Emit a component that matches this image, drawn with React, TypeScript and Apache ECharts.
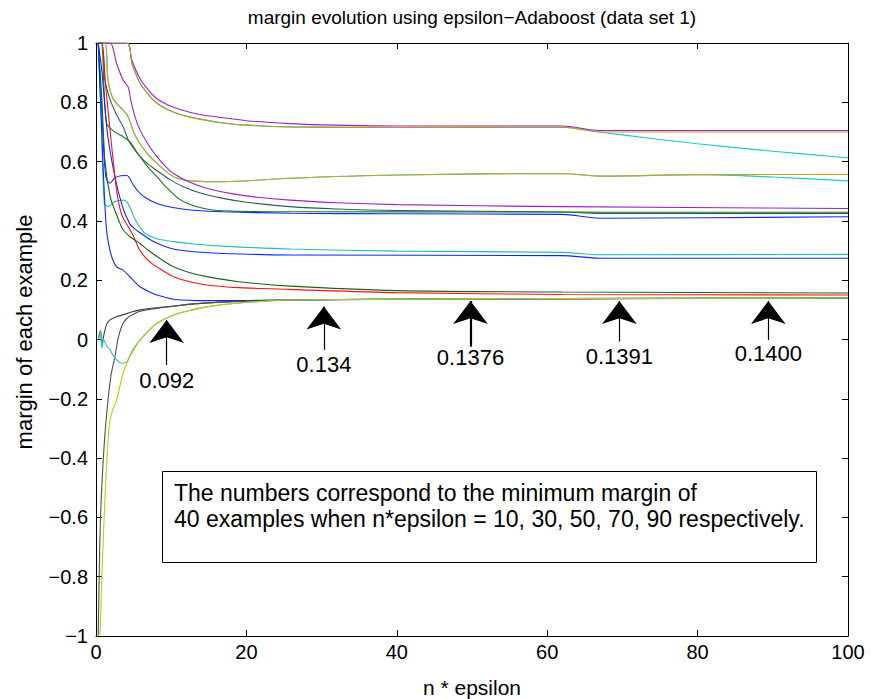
import React, { useEffect, useRef } from 'react';
import * as echarts from 'echarts';

const FONT = '"Liberation Sans", Arial, Helvetica, sans-serif';

// x ticks / y ticks
const xTicks = [0, 20, 40, 60, 80, 100];
const yRange = [-1, 1];

// each curve: [n*epsilon, margin]
const cyanTop = [[0.3, 1], [4.1, 1], [4.8, 0.93], [5.85, 0.865], [7, 0.825], [8.1, 0.797], [10, 0.77], [12.5, 0.75], [16.9, 0.73], [20, 0.723], [25.8, 0.717], [40, 0.715], [62, 0.716], [67, 0.7], [70, 0.69], [80, 0.66], [90, 0.635], [100, 0.613]];
const purpleTop = [[0.3, 1], [4.1, 1], [4.8, 0.94], [5.85, 0.88], [7, 0.84], [8.1, 0.812], [9.5, 0.792], [11.2, 0.776], [14, 0.758], [16.9, 0.748], [20, 0.738], [25.8, 0.728], [30, 0.724], [40, 0.72], [62, 0.72], [67, 0.705], [100, 0.705]];
const goldTop = [[0.3, 1], [4.1, 1], [4.8, 0.93], [5.85, 0.865], [7, 0.825], [8.1, 0.797], [10, 0.77], [12.5, 0.75], [16.9, 0.73], [20, 0.723], [25.8, 0.717], [40, 0.715], [62, 0.716], [67, 0.7], [100, 0.7]];
const cyanMid = [[0.3, 1], [1.2, 1], [1.6, 0.875], [2.3, 0.81], [3.6, 0.774], [4.3, 0.75], [5.0, 0.7], [5.85, 0.66], [7, 0.622], [8.1, 0.594], [9.5, 0.563], [10.7, 0.545], [13, 0.534], [16.9, 0.532], [25.8, 0.544], [40, 0.555], [62, 0.56], [67, 0.551], [80, 0.556], [90, 0.548], [100, 0.535]];
const goldMid = [[0.3, 1], [1.2, 1], [1.6, 0.875], [2.3, 0.81], [3.6, 0.774], [4.3, 0.75], [5.0, 0.7], [5.85, 0.66], [7, 0.622], [8.1, 0.594], [9.5, 0.563], [10.7, 0.545], [13, 0.534], [16.9, 0.532], [25.8, 0.544], [40, 0.555], [62, 0.56], [67, 0.551], [80, 0.556], [100, 0.557]];
const purpleMid = [[0.3, 1], [1.86, 1], [2.75, 0.93], [3.6, 0.875], [4.3, 0.85], [4.6, 0.81], [5.2, 0.75], [5.85, 0.707], [7, 0.655], [8.1, 0.617], [9.2, 0.585], [10.3, 0.56], [12.5, 0.53], [14.7, 0.51], [18, 0.492], [21.4, 0.48], [25.8, 0.47], [32, 0.461], [40, 0.455], [62, 0.448], [100, 0.442]];
const slate = [[0.3, 1], [0.8, 1], [1.2, 0.875], [1.86, 0.81], [2.7, 0.76], [3.6, 0.718], [4.3, 0.673], [5.0, 0.645], [5.85, 0.617], [7, 0.59], [8.1, 0.57], [9.8, 0.54], [11.6, 0.515], [14, 0.493], [16.9, 0.476], [20, 0.463], [25.8, 0.448], [32, 0.44], [40, 0.435], [62, 0.43], [67, 0.425], [100, 0.425]];
const green = [[0.3, 1], [0.7, 1], [1.4, 0.73], [2.5, 0.7], [3.6, 0.684], [4.5, 0.667], [5.5, 0.63], [6.8, 0.585], [8.1, 0.549], [9.5, 0.51], [11, 0.475], [12.5, 0.455], [14.5, 0.441], [16.9, 0.434], [25.8, 0.431], [62, 0.43], [67, 0.429], [100, 0.429]];
const blueBump = [[0.3, 1], [0.8, 0.75], [1.3, 0.55], [1.86, 0.527], [2.5, 0.545], [3.3, 0.552], [4.1, 0.553], [5.0, 0.52], [5.85, 0.493], [7, 0.472], [8.1, 0.459], [10, 0.446], [12.5, 0.437], [16.9, 0.431], [25.8, 0.426], [40, 0.424], [62, 0.422], [67, 0.409], [100, 0.414]];
const cyanBump = [[0.3, 1], [0.7, 0.75], [1.1, 0.46], [1.6, 0.448], [2.5, 0.465], [3.6, 0.47], [4.1, 0.465], [4.6, 0.44], [5.2, 0.405], [6.0, 0.372], [6.7, 0.355], [8.1, 0.34], [10.3, 0.33], [13, 0.322], [16.9, 0.315], [25.8, 0.305], [40, 0.298], [62, 0.294], [67, 0.286], [100, 0.287]];
const blueLow = [[0.3, 1], [0.8, 0.9], [1.5, 0.7], [2.5, 0.55], [3.5, 0.45], [4.5, 0.39], [5.2, 0.372], [5.85, 0.36], [7, 0.34], [8.1, 0.325], [10.3, 0.305], [13, 0.296], [16.9, 0.29], [25.8, 0.285], [62, 0.283], [67, 0.274], [100, 0.274]];
const red = [[0.3, 1], [0.75, 1], [1.3, 0.85], [1.86, 0.707], [2.3, 0.6], [2.75, 0.5], [3.2, 0.44], [3.6, 0.41], [4.3, 0.38], [5, 0.347], [5.85, 0.3], [7, 0.265], [8.1, 0.245], [10.3, 0.212], [12.5, 0.195], [14.7, 0.184], [19, 0.175], [25.8, 0.169], [40, 0.158], [62, 0.152], [100, 0.15]];
const darkGreen = [[0.3, 1], [0.8, 0.8], [1.2, 0.6], [1.9, 0.48], [2.75, 0.42], [3.6, 0.37], [4.6, 0.345], [5.85, 0.324], [7, 0.3], [8.1, 0.28], [10.3, 0.245], [12.5, 0.225], [14.7, 0.212], [19, 0.195], [25.8, 0.18], [40, 0.165], [62, 0.16], [100, 0.157]];
const blueMin = [[0.3, 1], [0.6, 0.8], [1.0, 0.55], [1.4, 0.37], [1.86, 0.3], [2.3, 0.265], [2.75, 0.245], [3.6, 0.234], [4.5, 0.212], [5.2, 0.193], [5.85, 0.178], [7, 0.162], [8.1, 0.15], [10.3, 0.136], [14.7, 0.131], [25.8, 0.133], [40, 0.136], [62, 0.137], [100, 0.14]];
const greyA = [[0.3, 0], [0.6, 0.03], [0.8, -0.02], [1, 0.01], [1.4, 0.05], [1.86, 0.066], [2.7, 0.077], [3.6, 0.083], [4.6, 0.092], [5.85, 0.1], [8, 0.107], [10.3, 0.113], [13, 0.12], [16.9, 0.127], [25.8, 0.133], [40, 0.136], [62, 0.138], [100, 0.14]];
const greyB = [[0.3, -1], [0.6, -0.6], [1.1, -0.35], [1.6, -0.204], [2.0, -0.12], [2.5, -0.06], [3.0, 0.01], [3.6, 0.055], [4.3, 0.075], [5, 0.085], [5.85, 0.095], [8, 0.105], [10.3, 0.112], [13, 0.12], [16.9, 0.126], [25.8, 0.133], [40, 0.136], [62, 0.138], [100, 0.14]];
const cyanLow = [[0.3, 0], [0.6, 0.03], [0.8, -0.03], [1, 0], [1.4, -0.02], [1.86, -0.035], [2.3, -0.055], [2.75, -0.069], [3.2, -0.078], [3.6, -0.08], [4.1, -0.075], [4.6, -0.05], [5.0, -0.03], [5.85, -0.002], [7, 0.03], [8.1, 0.055], [10.3, 0.083], [12.5, 0.098], [14.7, 0.11], [19, 0.123], [25.8, 0.133], [40, 0.136], [62, 0.138], [100, 0.14]];
const yellow = [[0.3, -1], [0.53, -0.99], [0.75, -0.82], [1, -0.654], [1.2, -0.53], [1.4, -0.43], [1.6, -0.34], [1.86, -0.27], [2.3, -0.232], [2.75, -0.204], [3.2, -0.155], [3.6, -0.114], [4.5, -0.058], [5.85, -0.002], [7, 0.03], [8.1, 0.055], [10.3, 0.083], [12.5, 0.098], [14.7, 0.11], [19, 0.123], [25.8, 0.133], [40, 0.136], [62, 0.138], [100, 0.14]];

const curves = [
  { name: 'cyanTop', color: '#1ec8c8', data: cyanTop },
  { name: 'purpleTop', color: '#a020c8', data: purpleTop },
  { name: 'goldTop', color: '#c09a20', data: goldTop },
  { name: 'cyanMid', color: '#1ec8c8', data: cyanMid },
  { name: 'goldMid', color: '#c0a830', data: goldMid },
  { name: 'purpleMid', color: '#a020c8', data: purpleMid },
  { name: 'slate', color: '#2f5a5a', data: slate },
  { name: 'green', color: '#108010', data: green },
  { name: 'blueBump', color: '#1028ff', data: blueBump },
  { name: 'cyanBump', color: '#20c0b0', data: cyanBump },
  { name: 'blueLow', color: '#1028ff', data: blueLow },
  { name: 'red', color: '#ff1010', data: red },
  { name: 'darkGreen', color: '#206020', data: darkGreen },
  { name: 'blueMin', color: '#1028ff', data: blueMin },
  { name: 'greyA', color: '#404040', data: greyA },
  { name: 'greyB', color: '#505050', data: greyB },
  { name: 'cyanLow', color: '#20c0c0', data: cyanLow },
  { name: 'yellow', color: '#c8c810', data: yellow },
];

// arrows: x position, tail, tip, label
const arrowX = [9.4, 30.3, 49.8, 69.6, 89.4];
const arrowTail = [-0.086, -0.035, -0.024, -0.007, -0.002];
const arrowTip = [0.066, 0.111, 0.13, 0.13, 0.13];
const arrowWidth = [1.2, 1.2, 2.2, 1.2, 1.2];
const arrowLabels = ['0.092', '0.134', '0.1376', '0.1391', '0.1400'];
const labelY = [-0.137, -0.086, -0.062, -0.056, -0.046];

const titleText = 'margin evolution using epsilon\u2212Adaboost (data set 1)';
const xName = 'n * epsilon';
const yName = 'margin of each example';
const noteLines = [
  'The numbers correspond to the minimum margin of',
  '40 examples when n*epsilon = 10, 30, 50, 70, 90 respectively.',
];

export default function App() {
  const ref = useRef<HTMLDivElement>(null);
  useEffect(() => {
    const chart = echarts.init(ref.current!, null, { renderer: 'svg' });
    const yFmt = (v: number) => {
      const r = Math.round(v * 10) / 10;
      return r === 0 ? '0' : String(r).replace('-', '\u2212');
    };
    const baseX = {
      type: 'value', min: xTicks[0], max: xTicks[xTicks.length - 1], interval: 20,
      axisLine: { show: true, onZero: false, lineStyle: { color: '#000', width: 1 } },
      axisTick: { show: true, inside: true, length: 6, lineStyle: { color: '#000', width: 1 } },
      splitLine: { show: false },
    };
    const baseY = {
      type: 'value', min: yRange[0], max: yRange[1], interval: 0.2,
      axisLine: { show: true, onZero: false, lineStyle: { color: '#000', width: 1 } },
      axisTick: { show: true, inside: true, length: 6, lineStyle: { color: '#000', width: 1 } },
      splitLine: { show: false },
    };
    const staticGraphics: any[] = [
      { type: 'text', x: 472, y: 17, z: 10, style: { text: titleText, font: `19px ${FONT}`, fill: '#000', align: 'center', verticalAlign: 'middle' } },
      { type: 'text', x: 472, y: 687, z: 10, style: { text: xName, font: `21px ${FONT}`, fill: '#000', align: 'center', verticalAlign: 'middle' } },
      { type: 'text', x: 24, y: 332, rotation: Math.PI / 2, z: 10, style: { text: yName, font: `22px ${FONT}`, fill: '#000', align: 'center', verticalAlign: 'middle' } },
      { type: 'rect', z: 20, shape: { x: 162.5, y: 471.5, width: 654, height: 91 }, style: { fill: '#fff', stroke: '#000', lineWidth: 1 } },
      { type: 'text', x: 174, y: 493, z: 21, style: { text: noteLines[0], font: `23px ${FONT}`, fill: '#000', align: 'left', verticalAlign: 'middle' } },
      { type: 'text', x: 174, y: 519, z: 21, style: { text: noteLines[1], font: `23px ${FONT}`, fill: '#000', align: 'left', verticalAlign: 'middle' } },
    ];
    const option: any = {
      animation: false,
      backgroundColor: '#fff',
      grid: { left: 96, top: 43, right: 24, bottom: 63, containLabel: false },
      xAxis: [
        { ...baseX, position: 'bottom', axisLabel: { color: '#000', fontSize: 20, fontFamily: FONT, margin: 6 } },
        { ...baseX, position: 'top', axisLabel: { show: false } },
      ],
      yAxis: [
        { ...baseY, position: 'left', axisLabel: { color: '#000', fontSize: 20, fontFamily: FONT, margin: 8, formatter: yFmt } },
        { ...baseY, position: 'right', axisLabel: { show: false } },
      ],
      series: [
        ...curves.map((c) => ({
          name: c.name, type: 'line', data: c.data, symbol: 'none', silent: true,
          smooth: 0.3,
          lineStyle: { color: c.color, width: 1.1 }, z: 3,
        })),
        {
          type: 'line', data: [], silent: true, z: 5,
          markLine: {
            silent: true, symbol: ['none', 'arrow'], symbolSize: [26, 23],
            label: { show: false },
            data: arrowX.map((x, i) => [
              { coord: [x, arrowTail[i]], lineStyle: { color: '#000', width: arrowWidth[i], type: 'solid' }, itemStyle: { color: '#000' } },
              { coord: [x, arrowTip[i]] },
            ]),
          },
        },
      ],
      graphic: staticGraphics,
    };
    chart.setOption(option);
    const labelGraphics = arrowX.map((x, i) => {
      const p = chart.convertToPixel({ xAxisIndex: 0, yAxisIndex: 0 }, [x, labelY[i]]) as number[];
      return { type: 'text', x: p[0], y: p[1], z: 12, style: { text: arrowLabels[i], font: `22px ${FONT}`, fill: '#000', align: 'center', verticalAlign: 'middle' } };
    });
    chart.setOption({ graphic: [...staticGraphics, ...labelGraphics] });
    return () => chart.dispose();
  }, []);
  return <div ref={ref} style={{ position: 'fixed', left: 0, top: 0, width: 872, height: 699, background: '#fff' }} />;
}
